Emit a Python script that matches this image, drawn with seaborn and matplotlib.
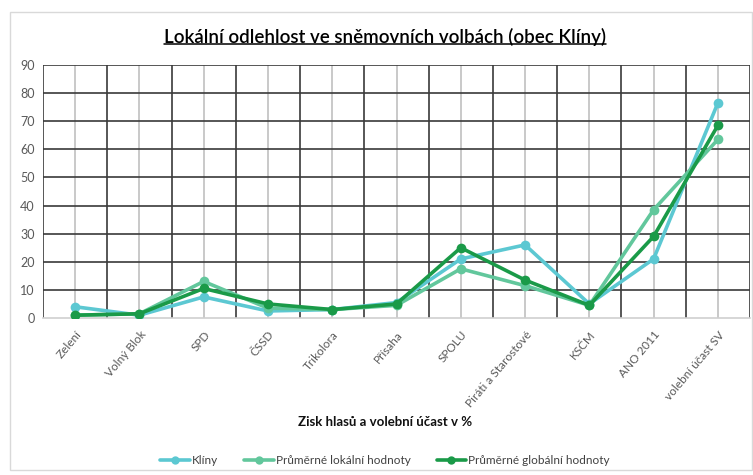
import numpy as np
import pandas as pd
import matplotlib
matplotlib.use("Agg")
import matplotlib.pyplot as plt
import seaborn as sns
from matplotlib.patches import Rectangle
from matplotlib.lines import Line2D

categories = ["Zelení", "Volný Blok", "SPD", "ČSSD", "Trikolora", "Přísaha",
              "SPOLU", "Piráti a Starostové", "KSČM", "ANO 2011", "volební účast SV"]
kliny = [4, 1, 7.5, 2.5, 3, 5.5, 21, 26, 5, 21, 76.5]
lokalni = [1, 1.5, 13, 3.5, 3, 4.5, 17.5, 11.5, 4.5, 38.5, 63.5]
globalni = [1, 1.5, 10.5, 5, 3, 5, 25, 13.5, 4.5, 29, 68.5]
series = ["Klíny", "Průměrné lokální hodnoty", "Průměrné globální hodnoty"]
colors = ["#5cc8d2", "#62c79c", "#1a9a48"]

pos = np.arange(len(categories))
df = pd.DataFrame({
    "pos": np.tile(pos, 3),
    "value": kliny + lokalni + globalni,
    "series": np.repeat(series, len(categories)),
})

sns.set_style("white")
plt.rcParams["font.family"] = ["Lato", "DejaVu Sans"]

fig = plt.figure(figsize=(7.53, 4.75), dpi=100)
fig.patches.append(Rectangle((10 / 753, 5 / 475), 742 / 753, 458 / 475, transform=fig.transFigure,
                             fill=False, edgecolor="#d9d9d9", linewidth=1))
ax = fig.add_axes([43 / 753, 1 - 318 / 475, 707 / 753, 253 / 475])

# grid
for c in pos:
    ax.axvline(c, color="#c0c0c0", linewidth=1.2, zorder=0)
for b in np.arange(-0.5, len(categories), 1):
    ax.axvline(b, color="#3a3a3a", linewidth=1.2, zorder=1)
for y in range(10, 91, 10):
    ax.axhline(y, color="#3a3a3a", linewidth=1.2, zorder=1)

sns.lineplot(data=df, x="pos", y="value", hue="series", palette=colors, marker="o",
             markersize=7, markeredgewidth=0, linewidth=2.6, sort=False, ax=ax, zorder=3,
             legend=False)

ax.set_xlim(-0.5, len(categories) - 0.5)
ax.set_ylim(0, 90)
ax.set_yticks(range(0, 91, 10))
ax.set_xticks(pos)
ax.set_xticklabels(categories, rotation=50, ha="right", rotation_mode="anchor",
                   fontsize=8.5, color="#595959")
ax.tick_params(axis="y", labelsize=9, colors="#595959", length=0, pad=6)
ax.tick_params(axis="x", length=0, pad=8)
for s in ["top", "right", "left"]:
    ax.spines[s].set_visible(False)
ax.spines["bottom"].set_color("#d0d0d0")
ax.spines["bottom"].set_linewidth(1.2)
ax.set_xlabel("")
ax.set_ylabel("")

title = fig.text(385 / 753, 1 - 37 / 475, "Lokální odlehlost ve sněmovních volbách (obec Klíny)",
                 ha="center", va="center", fontsize=13.5, fontweight="semibold", color="#000000")
fig.canvas.draw()
bb = title.get_window_extent().transformed(fig.transFigure.inverted())
fig.add_artist(Line2D([bb.x0, bb.x1], [bb.y0 + 0.004, bb.y0 + 0.004], transform=fig.transFigure,
                      color="#000000", linewidth=1.1))

fig.text(385 / 753, 1 - 422 / 475, "Zisk hlasů a volební účast v %", ha="center", va="center",
         fontsize=9.5, fontweight="bold", color="#111111")

handles = [Line2D([], [], color=c, marker="o", markersize=6, markeredgewidth=0, linewidth=2.6)
           for c in colors]
fig.legend(handles, series, loc="center", bbox_to_anchor=(385 / 753, 1 - 461 / 475), ncol=3,
           frameon=False, fontsize=8.5, handlelength=2.5, handletextpad=0.2, columnspacing=2.2,
           labelcolor="#404040")

fig.savefig("out.png", dpi=100)
